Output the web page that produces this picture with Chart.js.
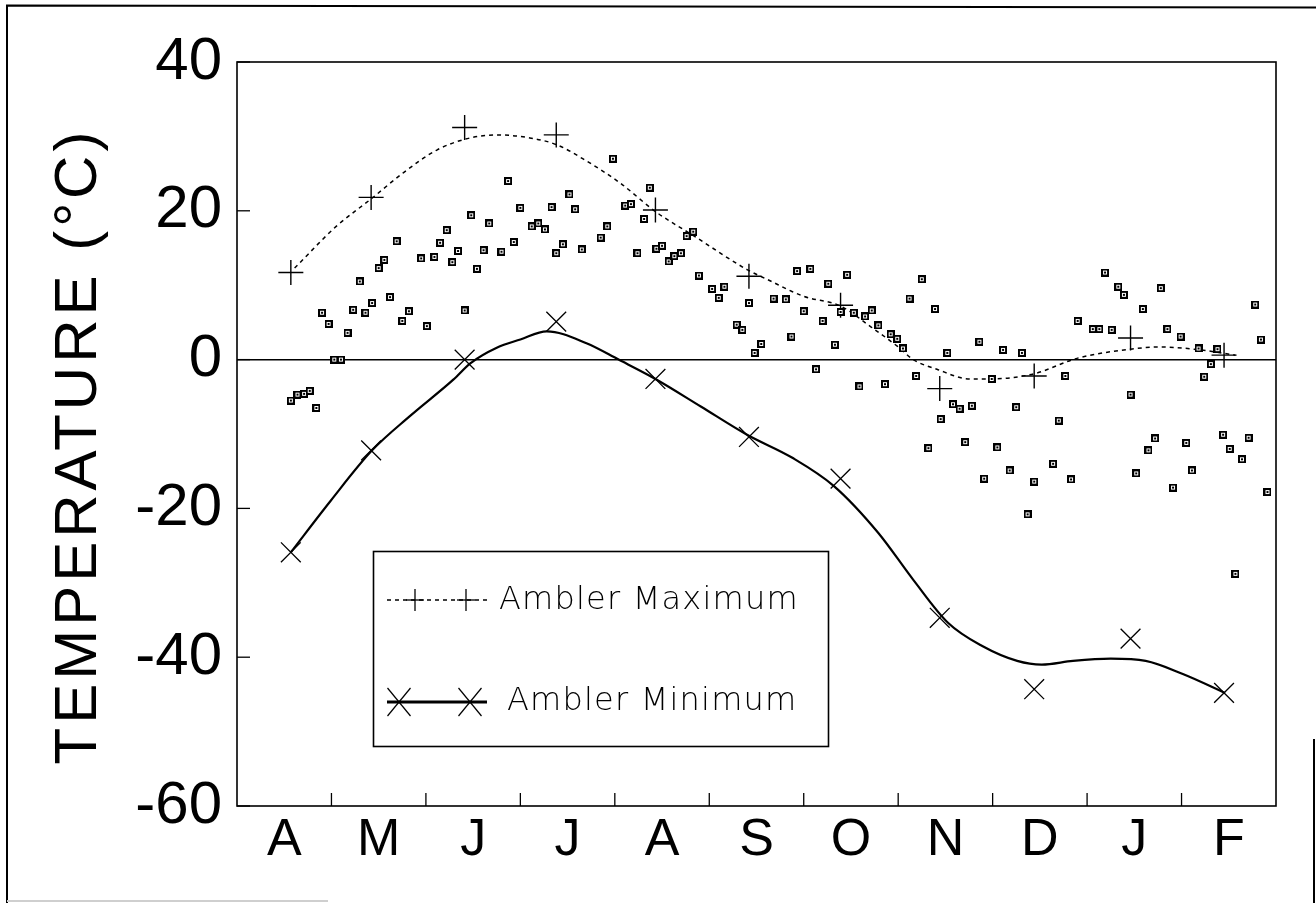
<!DOCTYPE html>
<html>
<head>
<meta charset="utf-8">
<title>Ambler temperature</title>
<script src="https://cdn.jsdelivr.net/npm/chart.js@4.4.1/dist/chart.umd.min.js"></script>
<style>
  html, body { margin: 0; padding: 0; background: #fff; }
  #wrap { width: 1316px; height: 903px; }
</style>
</head>
<body>
<div id="wrap"><canvas id="myChart" width="1316" height="903"></canvas></div>
<script>
"use strict";
// x is in months since 1 April (0 = start of April, 11 = end of February)
const months = ["A", "M", "J", "J", "A", "S", "O", "N", "D", "J", "F"];
const yTicks = [-60, -40, -20, 0, 20, 40];
const yTitle = "TEMPERATURE (°C)";

// daily observations (small squares)
const obsX = [
  0.57, 0.64, 0.71, 0.77, 0.84, 0.90, 0.97, 1.03, 1.10, 1.17,
  1.23, 1.30, 1.36, 1.43, 1.50, 1.56, 1.62, 1.69, 1.75, 1.82,
  1.95, 2.01, 2.09, 2.15, 2.22, 2.28, 2.34, 2.41, 2.48, 2.54,
  2.61, 2.67, 2.80, 2.87, 2.93, 3.00, 3.12, 3.19, 3.26, 3.33,
  3.38, 3.45, 3.52, 3.58, 3.65, 3.85, 3.92, 3.98, 4.11, 4.17,
  4.24, 4.31, 4.37, 4.44, 4.50, 4.57, 4.63, 4.70, 4.76, 4.83,
  4.89, 5.03, 5.10, 5.16, 5.29, 5.35, 5.42, 5.48, 5.55, 5.68,
  5.81, 5.87, 5.93, 6.00, 6.07, 6.13, 6.20, 6.26, 6.33, 6.39,
  6.46, 6.53, 6.59, 6.65, 6.72, 6.79, 6.86, 6.92, 6.99, 7.05,
  7.12, 7.19, 7.25, 7.32, 7.39, 7.45, 7.52, 7.58, 7.65, 7.71,
  7.78, 7.86, 7.91, 7.99, 8.05, 8.11, 8.18, 8.25, 8.31, 8.37,
  8.44, 8.64, 8.70, 8.77, 8.83, 8.90, 9.06, 9.13, 9.19, 9.26,
  9.33, 9.39, 9.46, 9.52, 9.59, 9.65, 9.72, 9.78, 9.85, 9.91,
  9.99, 10.05, 10.11, 10.18, 10.24, 10.31, 10.38, 10.44, 10.51, 10.57,
  10.64, 10.71, 10.78, 10.84, 10.91
];
const obsY = [
  -5.5, -4.7, -4.6, -4.2, -6.5, 6.3, 4.8, 0.0, 0.0, 3.6,
  6.7, 10.5, 6.3, 7.6, 12.3, 13.4, 8.4, 15.9, 5.2, 6.5,
  13.6, 4.5, 13.8, 15.7, 17.4, 13.1, 14.6, 6.6, 19.4, 12.2,
  14.7, 18.3, 14.5, 24.0, 15.8, 20.4, 17.9, 18.3, 17.5, 20.5,
  14.3, 15.5, 22.2, 20.2, 14.8, 16.4, 17.9, 27.0, 20.7, 20.9,
  14.3, 18.9, 23.1, 14.9, 15.3, 13.2, 13.9, 14.3, 16.6, 17.2,
  11.3, 9.5, 8.3, 9.8, 4.7, 4.0, 7.6, 0.9, 2.1, 8.2,
  8.1, 3.1, 11.9, 6.5, 12.2, -1.3, 5.2, 10.2, 2.0, 6.4,
  11.4, 6.3, -3.6, 5.8, 6.6, 4.6, -3.3, 3.4, 2.8, 1.5,
  8.2, -2.2, 10.8, -11.9, 6.8, -8.0, 0.9, -6.0, -6.6, -11.1,
  -6.2, 2.4, -16.0, -2.6, -11.8, 1.3, -14.9, -6.4, 0.9, -20.8,
  -16.4, -14.0, -8.2, -2.2, -16.1, 5.2, 4.1, 4.1, 11.7, 4.0,
  9.8, 8.7, -4.7, -15.3, 6.8, -12.2, -10.6, 9.6, 4.1, -17.2,
  3.1, -11.2, -14.9, 1.5, -2.3, -0.6, 1.4, -10.1, -12.0, -28.8,
  -13.4, -10.5, 7.4, 2.7, -17.8
];

// Ambler monthly values (+ and x markers)
const markX = [0.57, 1.42, 2.41, 3.38, 4.43, 5.42, 6.39, 7.44, 8.44, 9.46, 10.45];
const maxMarkY = [11.7, 21.8, 31.2, 30.2, 20.1, 11.2, 7.3, -3.9, -2.2, 2.9, 0.6];
const minMarkY = [-25.9, -12.2, 0.0, 5.1, -2.6, -10.4, -16.0, -34.7, -44.3, -37.5, -44.8];

// fitted curves
const maxCurveX = [0.61, 1.05, 1.42, 1.76, 2.12, 2.47, 2.75, 3.10, 3.38, 3.70, 4.06, 4.43, 4.84, 5.40, 5.61,
  6.00, 6.39, 6.70, 6.99, 7.16, 7.41, 7.76, 7.98, 8.44, 8.90, 9.46, 9.78, 10.20, 10.57];
const maxCurveY = [12.3, 17.9, 21.6, 25.1, 28.2, 29.8, 30.2, 29.8, 28.9, 26.7, 23.7, 19.9, 16.6, 12.1, 10.8,
  8.5, 7.2, 4.5, 1.8, 0.0, -1.3, -2.6, -2.6, -1.9, 0.2, 1.4, 1.7, 1.3, 0.6];
const minCurveX = [0.57, 0.99, 1.43, 1.83, 2.29, 2.47, 2.75, 3.00, 3.28, 3.70, 4.04, 4.43, 4.91, 5.40,
  5.88, 6.32, 6.79, 7.16, 7.53, 7.89, 8.26, 8.52, 8.85, 9.25, 9.62, 10.02, 10.46];
const minCurveY = [-25.9, -19.0, -12.2, -7.6, -2.7, -0.5, 1.6, 2.7, 3.8, 2.2, 0.0, -2.6, -6.3, -10.1,
  -13.2, -17.0, -23.3, -29.6, -35.4, -38.5, -40.5, -41.0, -40.5, -40.2, -40.5, -42.3, -44.8];

const font = "'Liberation Sans', Arial, Helvetica, sans-serif";

function pts(xs, ys) {
  return xs.map((x, i) => ({ x: x, y: ys[i] }));
}

// square with a dot, like the plotter symbol
function makeObsMarker() {
  const c = document.createElement("canvas");
  c.width = 8;
  c.height = 8;
  const g = c.getContext("2d");
  g.fillStyle = "#000";
  g.fillRect(0, 0, 8, 8);
  g.fillStyle = "#fff";
  g.fillRect(2, 2, 4, 4);
  g.fillStyle = "#000";
  g.fillRect(3, 3, 2, 2);
  return c;
}

function line(c, x1, y1, x2, y2) {
  c.beginPath();
  c.moveTo(x1, y1);
  c.lineTo(x2, y2);
  c.stroke();
}

const framePlugin = {
  id: "frame",
  beforeDraw(chart) {
    const c = chart.ctx;
    c.save();
    c.fillStyle = "#fff";
    c.fillRect(0, 0, chart.width, chart.height);
    c.strokeStyle = "#000";
    c.lineWidth = 2;
    c.beginPath();
    c.moveTo(7, 903);
    c.lineTo(7, 5.5);
    c.lineTo(1316, 7.5);
    c.stroke();
    line(c, 1314, 739, 1314, 903);
    c.strokeStyle = "#cfcfcf";
    line(c, 7, 901, 328, 901);
    c.restore();
  },
  beforeDatasetsDraw(chart) {
    const c = chart.ctx;
    const a = chart.chartArea;
    c.save();
    c.strokeStyle = "#000";
    c.lineWidth = 1.6;
    c.strokeRect(a.left, a.top, a.right - a.left, a.bottom - a.top);
    c.lineWidth = 1.3;
    yTicks.forEach((v) => {
      const py = chart.scales.y.getPixelForValue(v);
      line(c, a.left, py, a.left + 13, py);
    });
    for (let i = 1; i < months.length; i++) {
      const px = chart.scales.x.getPixelForValue(i);
      line(c, px, a.bottom, px, a.bottom - 13);
    }
    c.restore();
  },
  afterDraw(chart) {
    const c = chart.ctx;
    c.save();
    // axis title, rotated
    c.save();
    c.translate(79, 446);
    c.rotate(-Math.PI / 2);
    c.fillStyle = "#000";
    c.font = "60px " + font;
    c.letterSpacing = "4px";
    c.textAlign = "center";
    c.textBaseline = "middle";
    c.fillText(yTitle, 0, 0);
    c.restore();
    // legend box
    c.strokeStyle = "#000";
    c.lineWidth = 1.6;
    c.strokeRect(373.5, 551.5, 455, 195);
    // Ambler Maximum
    c.lineWidth = 1.3;
    c.setLineDash([4, 4]);
    line(c, 387, 600, 487, 600);
    c.setLineDash([]);
    [415, 466].forEach((x) => {
      line(c, x - 9, 600, x + 9, 600);
      line(c, x, 589, x, 611);
    });
    // Ambler Minimum
    c.lineWidth = 3;
    line(c, 387, 702, 487, 702);
    c.lineWidth = 1.2;
    [399, 470].forEach((x) => {
      line(c, x - 11.5, 688, x + 11.5, 716);
      line(c, x - 11.5, 716, x + 11.5, 688);
    });
    c.fillStyle = "#000";
    c.font = "200 32px 'DejaVu Sans', " + font;
    c.letterSpacing = "1.2px";
    c.textBaseline = "middle";
    c.textAlign = "left";
    c.fillText("Ambler Maximum", 499, 601);
    c.fillText("Ambler Minimum", 507, 702);
    c.restore();
  }
};

const ctx = document.getElementById("myChart").getContext("2d");
const myChart = new Chart(ctx, {
  type: "scatter",
  data: {
    datasets: [
      {
        label: "daily",
        data: pts(obsX, obsY),
        pointStyle: makeObsMarker(),
        pointRadius: 4,
        showLine: false
      },
      {
        label: "Ambler Maximum",
        data: pts(markX, maxMarkY),
        pointStyle: "cross",
        pointRadius: 12.5,
        borderColor: "#000",
        borderWidth: 1.4,
        showLine: false
      },
      {
        label: "Ambler Minimum",
        data: pts(markX, minMarkY),
        pointStyle: "crossRot",
        pointRadius: 14,
        borderColor: "#000",
        borderWidth: 1.3,
        showLine: false
      },
      {
        label: "max fit",
        data: pts(maxCurveX, maxCurveY),
        showLine: true,
        pointRadius: 0,
        borderColor: "#000",
        borderWidth: 1.5,
        borderDash: [4, 4],
        cubicInterpolationMode: "monotone"
      },
      {
        label: "min fit",
        data: pts(minCurveX, minCurveY),
        showLine: true,
        pointRadius: 0,
        borderColor: "#000",
        borderWidth: 2.2,
        cubicInterpolationMode: "monotone"
      }
    ]
  },
  options: {
    responsive: false,
    animation: false,
    devicePixelRatio: 1,
    layout: { padding: { left: 0, top: 62, right: 40, bottom: 0 } },
    plugins: {
      legend: { display: false },
      tooltip: { enabled: false }
    },
    scales: {
      x: {
        type: "linear",
        min: 0,
        max: 11,
        afterBuildTicks: (s) => {
          s.ticks = months.map((m, i) => ({ value: i + 0.5 }));
        },
        afterFit: (s) => {
          s.height = 97;
        },
        grid: { display: false, drawTicks: false },
        border: { display: false },
        ticks: {
          autoSkip: false,
          maxRotation: 0,
          padding: 9,
          color: "#000",
          font: { family: font, size: 52, lineHeight: 1 },
          callback: (v, i) => months[i]
        }
      },
      y: {
        min: -60,
        max: 40,
        afterBuildTicks: (s) => {
          s.ticks = yTicks.map((v) => ({ value: v }));
        },
        afterFit: (s) => {
          s.width = 237;
        },
        grid: {
          drawTicks: false,
          lineWidth: 1.4,
          color: (c) => (c.tick && c.tick.value === 0 ? "#000" : "rgba(0,0,0,0)")
        },
        border: { display: false },
        ticks: {
          padding: 15,
          color: "#000",
          font: { family: font, size: 60, lineHeight: 1 },
          callback: (v) => (v < 0 ? "-" + Math.abs(v) : String(v))
        }
      }
    }
  },
  plugins: [framePlugin]
});
</script>
</body>
</html>
